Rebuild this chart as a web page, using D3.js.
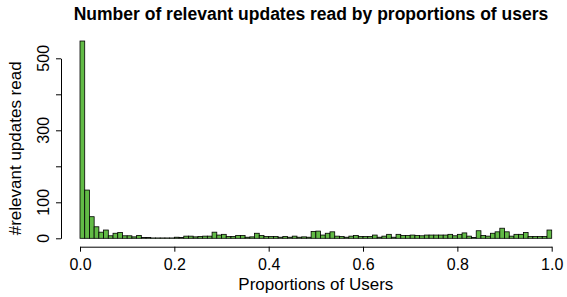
<!DOCTYPE html>
<html>
<head>
<script src="https://cdn.jsdelivr.net/npm/d3@7"></script>
<style>
  body { margin: 0; background: #fff; }
  text { font-family: "Liberation Sans", Arial, Helvetica, sans-serif; fill: #000; }
</style>
</head>
<body>
<svg id="chart" width="567" height="297"></svg>
<script>
// histogram counts, 100 bins of width 0.01 from 0 to 1
var counts = [
  548, 134, 60, 32, 17, 23, 7, 14, 16, 7,
  7, 4, 8, 2, 2, 1, 1, 1, 1, 1,
  3, 2, 6, 6, 4, 5, 6, 6, 17, 9,
  11, 5, 5, 8, 8, 3, 4, 14, 8, 5,
  5, 5, 3, 5, 3, 6, 3, 4, 3, 19,
  20, 9, 14, 18, 6, 5, 3, 6, 8, 5,
  5, 5, 9, 3, 6, 11, 3, 11, 8, 8,
  9, 8, 7, 9, 9, 9, 9, 9, 11, 7,
  11, 15, 6, 2, 21, 8, 6, 14, 18, 28,
  18, 6, 11, 11, 16, 5, 5, 5, 5, 23
];
var binWidth = 0.01;
var xTicks = [0, 0.2, 0.4, 0.6, 0.8, 1.0];
var yTicks = [0, 100, 200, 300, 400, 500];
var yTickLabels = [0, 100, 300, 500];

var svg = d3.select("#chart");

var x = d3.scaleLinear().domain([0, 1]).range([80, 551.7]);
var y = d3.scaleLinear().domain([0, 500]).range([238.3, 58.3]);

// bars
svg.append("g")
  .selectAll("rect")
  .data(counts)
  .join("rect")
    .attr("x", function(d, i) { return x(i * binWidth); })
    .attr("y", function(d) { return y(d); })
    .attr("width", function(d, i) { return x((i + 1) * binWidth) - x(i * binWidth); })
    .attr("height", function(d) { return y(0) - y(d); })
    .attr("fill", "#62bb46")
    .attr("stroke", "#000")
    .attr("stroke-width", 0.8);

// x axis
var xAxis = svg.append("g")
  .attr("transform", "translate(0,246.7)")
  .call(d3.axisBottom(x).tickValues(xTicks).tickSize(5).tickSizeOuter(0)
    .tickPadding(7).tickFormat(d3.format(".1f")));
xAxis.selectAll("text").attr("font-size", 16).attr("font-family", null);
xAxis.selectAll("path, line").attr("stroke", "#000");

// y axis
var yAxis = svg.append("g")
  .attr("transform", "translate(61,0)")
  .call(d3.axisLeft(y).tickValues(yTicks).tickSize(5).tickSizeOuter(0).tickFormat(""));
yAxis.selectAll("path, line").attr("stroke", "#000");

svg.append("g")
  .selectAll("text")
  .data(yTickLabels)
  .join("text")
    .attr("transform", function(d) { return "translate(49," + y(d) + ") rotate(-90)"; })
    .attr("text-anchor", "middle")
    .attr("font-size", 16)
    .text(function(d) { return d; });

// titles
svg.append("text")
  .attr("x", 311).attr("y", 20)
  .attr("text-anchor", "middle")
  .attr("font-size", 17.5)
  .attr("font-weight", "bold")
  .text("Number of relevant updates read by proportions of users");

svg.append("text")
  .attr("x", x(0.5)).attr("y", 289.5)
  .attr("text-anchor", "middle")
  .attr("font-size", 17)
  .text("Proportions of Users");

svg.append("text")
  .attr("transform", "translate(21," + y(250) + ") rotate(-90)")
  .attr("text-anchor", "middle")
  .attr("font-size", 17)
  .text("#relevant updates read");
</script>
</body>
</html>
